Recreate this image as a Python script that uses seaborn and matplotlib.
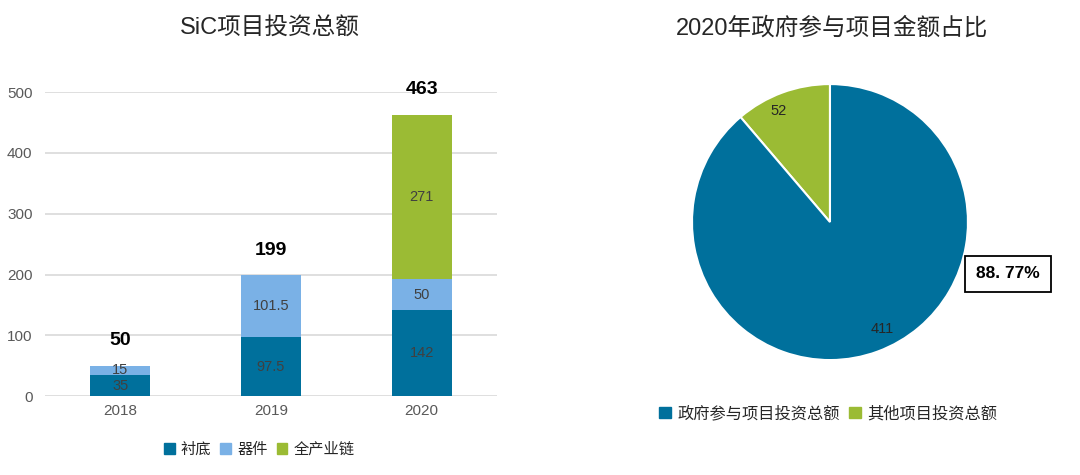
import numpy as np
import pandas as pd
import matplotlib
matplotlib.use("Agg")
import matplotlib.pyplot as plt
import seaborn as sns
from matplotlib.patches import Patch

# data
years = ["2018", "2019", "2020"]
substrate = [35, 97.5, 142]
device = [15, 101.5, 50]
chain = [0, 0, 271]
totals = [50, 199, 463]
series_names = ["衬底", "器件", "全产业链"]

pie_labels = ["其他项目投资总额", "政府参与项目投资总额"]
pie_values = [52, 411]
gov_share = "88. 77%"

c_dark = "#00709C"
c_light = "#7AB1E6"
c_green = "#9BBB34"

sns.set_theme(style="white")
plt.rcParams["font.family"] = ["Liberation Sans", "Noto Sans CJK SC", "DejaVu Sans"]

fig = plt.figure(figsize=(10.8, 4.75), dpi=100)

# ==============================
# stacked bar chart
# ==============================
ax = fig.add_axes([0.0417, 0.166, 0.4185, 0.64])
df = pd.DataFrame({"year": years, "s": substrate, "d": device, "c": chain})
df["sd"] = df["s"] + df["d"]
df["sdc"] = df["sd"] + df["c"]

# draw cumulative heights, tallest first, so layers overlap into a stack
for col, colr in [("sdc", c_green), ("sd", c_light), ("s", c_dark)]:
    sns.barplot(data=df, x="year", y=col, color=colr, width=0.4, saturation=1,
                linewidth=0, edgecolor="none", ax=ax)

ax.set_ylim(0, 500)
ax.set_xlim(-0.5, 2.5)
ax.set_yticks([0, 100, 200, 300, 400, 500])
ax.grid(axis="y", color="#D9D9D9", linewidth=1.2)
ax.set_axisbelow(True)
for sp in ax.spines.values():
    sp.set_visible(False)
ax.set_xlabel("")
ax.set_ylabel("")
ax.tick_params(axis="both", length=0, labelsize=11, labelcolor="#595959")
ax.tick_params(axis="y", pad=9)
ax.tick_params(axis="x", pad=6)

for i in range(len(years)):
    s, d, c = substrate[i], device[i], chain[i]
    ax.text(i, s / 2, f"{s:g}", ha="center", va="center", fontsize=10.5, color="#404040")
    ax.text(i, s + d / 2, f"{d:g}", ha="center", va="center", fontsize=10.5, color="#404040")
    if c > 0:
        ax.text(i, s + d + c / 2, f"{c:g}", ha="center", va="center", fontsize=10.5, color="#404040")
    ax.text(i, totals[i] + 41, str(totals[i]), ha="center", va="center",
            fontsize=14, fontweight="bold", color="black", clip_on=False)

fig.text(0.25, 0.94, "SiC项目投资总额", ha="center", va="center", fontsize=17, color="#262626")

handles = [Patch(color=c_dark), Patch(color=c_light), Patch(color=c_green)]
fig.legend(handles, series_names, loc="center", bbox_to_anchor=(0.24, 0.053), ncol=3,
           frameon=False, fontsize=11, handlelength=0.7, handleheight=0.7,
           handletextpad=0.4, columnspacing=0.6, labelcolor="#262626")

# ==============================
# pie chart
# ==============================
pax = fig.add_axes([0.6407, 0.242, 0.2556, 0.581])
wedges, _ = pax.pie(pie_values, colors=[c_green, c_dark], startangle=90, counterclock=True,
                    wedgeprops=dict(edgecolor="white", linewidth=1.5))
pax.set_xlim(-1, 1)
pax.set_ylim(-1, 1)
pax.set_aspect("equal")

# value labels, placed like the reference
a52 = np.deg2rad(115)
pax.text(0.885 * np.cos(a52), 0.885 * np.sin(a52), str(pie_values[0]), ha="center", va="center",
         fontsize=10.5, color="#262626")
a411 = np.deg2rad(-64)
pax.text(0.866 * np.cos(a411), 0.866 * np.sin(a411), str(pie_values[1]), ha="center", va="center",
         fontsize=10.5, color="#262626")
pax.text(1.29, -0.375, gov_share, ha="center", va="center", fontsize=12.5, fontweight="bold",
         color="black", clip_on=False,
         bbox=dict(boxstyle="square,pad=0.62", facecolor="white", edgecolor="black", linewidth=1.3))

fig.text(0.77, 0.94, "2020年政府参与项目金额占比", ha="center", va="center", fontsize=17, color="#262626")

handles2 = [Patch(color=c_dark), Patch(color=c_green)]
fig.legend(handles2, [pie_labels[1], pie_labels[0]], loc="center", bbox_to_anchor=(0.767, 0.13),
           ncol=2, frameon=False, fontsize=11.7, handlelength=0.7, handleheight=0.7,
           handletextpad=0.4, columnspacing=0.6, labelcolor="#262626")

fig.savefig("out.png", dpi=100, facecolor="white")
